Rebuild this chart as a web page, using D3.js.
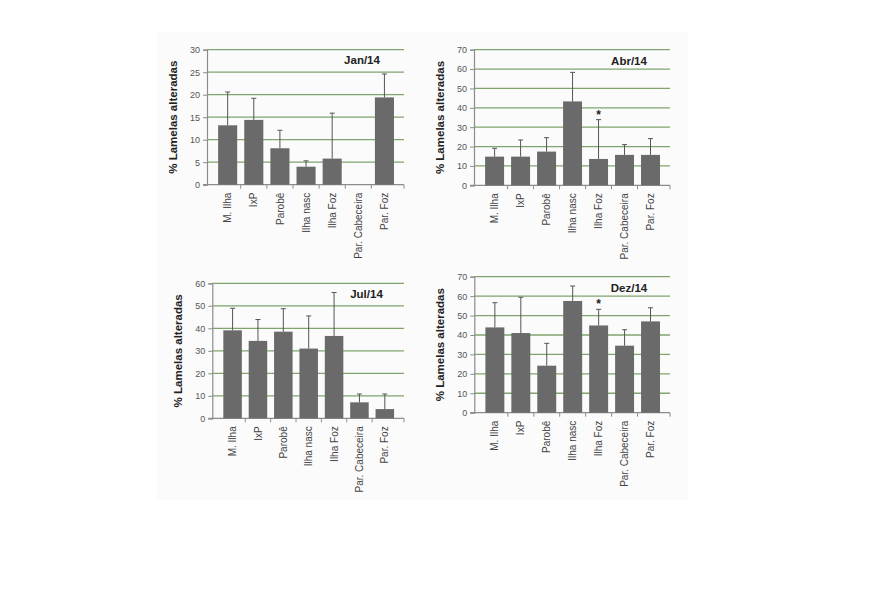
<!DOCTYPE html>
<html>
<head>
<meta charset="utf-8">
<script src="https://cdn.jsdelivr.net/npm/d3@7"></script>
<style>
  html, body { margin: 0; padding: 0; background: #ffffff; }
  svg { display: block; }
</style>
</head>
<body>
<svg id="chart" width="870" height="590"></svg>
<script>
// ---- data ----
const categories = ["M. Ilha", "IxP", "Parobê", "Ilha nasc", "Ilha Foz", "Par. Cabeceira", "Par. Foz"];

const janMeans = [13.2, 14.4, 8.1, 4.0, 5.8, 0, 19.4];
const janErrors = [7.4, 4.8, 4.0, 1.3, 10.1, 0, 5.2];
const janStars = [];

const abrMeans = [14.8, 14.8, 17.4, 43.3, 13.6, 15.7, 15.7];
const abrErrors = [4.3, 8.6, 7.2, 15.0, 20.3, 5.3, 8.4];
const abrStars = ["Ilha Foz"];

const julMeans = [39.1, 34.4, 38.5, 31.0, 36.6, 7.1, 4.1];
const julErrors = [9.8, 9.5, 10.2, 14.5, 19.3, 3.7, 6.7];
const julStars = [];

const dezMeans = [43.9, 41.0, 24.2, 57.5, 44.9, 34.5, 47.0];
const dezErrors = [12.7, 18.4, 11.5, 7.7, 8.3, 8.2, 7.0];
const dezStars = ["Ilha Foz"];

const panelTitles = ["Jan/14", "Abr/14", "Jul/14", "Dez/14"];
const yMaxes = [30, 70, 60, 70];
const yTickSteps = [5, 10, 10, 10];
const yAxisLabel = "% Lamelas alteradas";

// ---- layout (pixel geometry of each panel) ----
const panels = [
  { means: janMeans, errors: janErrors, stars: janStars, left: 207, right: 404, top: 49.7, bottom: 184.7, labelX: 176.5, titleX: 362, titleY: 64 },
  { means: abrMeans, errors: abrErrors, stars: abrStars, left: 474, right: 670, top: 49.7, bottom: 185.3, labelX: 444, titleX: 629, titleY: 65 },
  { means: julMeans, errors: julErrors, stars: julStars, left: 212.3, right: 404, top: 283.3, bottom: 418.3, labelX: 181.5, titleX: 366.5, titleY: 298 },
  { means: dezMeans, errors: dezErrors, stars: dezStars, left: 474.3, right: 670, top: 276.7, bottom: 412.7, labelX: 444, titleX: 629, titleY: 292 }
];

const svg = d3.select("#chart");

// faint figure background
svg.append("rect")
  .attr("x", 157).attr("y", 32).attr("width", 531).attr("height", 468)
  .attr("fill", "#fbfbfb");

const gridColor = "#7fa46c";
const axisColor = "#8c8c8c";
const barColor = "#6a6a6a";
const textColor = "#444";
const boldFont = "'Liberation Sans Narrow', 'Liberation Sans', Arial, sans-serif";
const tickFont = "'Liberation Sans', Arial, sans-serif";

panels.forEach((p, i) => {
  const g = svg.append("g");
  const yMax = yMaxes[i];
  const y = d3.scaleLinear().domain([0, yMax]).range([p.bottom, p.top]);
  const x = d3.scaleBand().domain(categories)
    .range([p.left + 7.6, p.right - 6.5])
    .paddingInner(0.27).paddingOuter(0.135);

  const ticks = d3.range(0, yMax + 0.001, yTickSteps[i]);

  // gridlines
  g.selectAll("line.grid").data(ticks.filter(t => t > 0)).enter().append("line")
    .attr("x1", p.left).attr("x2", p.right)
    .attr("y1", d => y(d)).attr("y2", d => y(d))
    .attr("stroke", gridColor).attr("stroke-width", 1.3);

  // y axis
  const yAxis = d3.axisLeft(y).tickValues(ticks).tickSize(4).tickPadding(3).tickFormat(d3.format("d"));
  const ya = g.append("g").attr("transform", `translate(${p.left},0)`).call(yAxis);
  ya.select(".domain").attr("stroke", axisColor).attr("stroke-width", 1.2);
  ya.selectAll(".tick line").attr("stroke", axisColor);
  ya.selectAll(".tick text").attr("fill", "#555").style("font-family", tickFont).style("font-size", "9px");

  // x axis baseline
  g.append("line")
    .attr("x1", p.left - 4).attr("x2", p.right)
    .attr("y1", p.bottom).attr("y2", p.bottom)
    .attr("stroke", axisColor).attr("stroke-width", 1.2);
  // category boundary ticks
  const step = x.step();
  const boundaries = d3.range(1, categories.length).map(k => x.range()[0] + step * k);
  boundaries.push(p.right);
  g.selectAll("line.xt").data(boundaries).enter().append("line")
    .attr("x1", d => d).attr("x2", d => d)
    .attr("y1", p.bottom).attr("y2", p.bottom + 4)
    .attr("stroke", axisColor);

  // bars
  g.selectAll("rect.bar").data(categories).enter().append("rect")
    .attr("x", d => x(d))
    .attr("width", x.bandwidth())
    .attr("y", (d, k) => y(p.means[k]))
    .attr("height", (d, k) => p.bottom - y(p.means[k]))
    .attr("fill", barColor);

  // error bars (upper)
  const eb = g.selectAll("g.eb").data(categories).enter().append("g")
    .filter((d, k) => p.errors[k] > 0);
  eb.append("line")
    .attr("x1", d => x(d) + x.bandwidth() / 2).attr("x2", d => x(d) + x.bandwidth() / 2)
    .attr("y1", d => y(p.means[categories.indexOf(d)]))
    .attr("y2", d => { const k = categories.indexOf(d); return y(p.means[k] + p.errors[k]); })
    .attr("stroke", "#555").attr("stroke-width", 1);
  eb.append("line")
    .attr("x1", d => x(d) + x.bandwidth() / 2 - 2.5).attr("x2", d => x(d) + x.bandwidth() / 2 + 2.5)
    .attr("y1", d => { const k = categories.indexOf(d); return y(p.means[k] + p.errors[k]); })
    .attr("y2", d => { const k = categories.indexOf(d); return y(p.means[k] + p.errors[k]); })
    .attr("stroke", "#555").attr("stroke-width", 1);

  // stars
  g.selectAll("text.star").data(p.stars).enter().append("text")
    .attr("x", d => x(d) + x.bandwidth() / 2)
    .attr("y", d => { const k = categories.indexOf(d); return y(p.means[k] + p.errors[k]) - 1; })
    .attr("text-anchor", "middle")
    .style("font-family", tickFont).style("font-weight", "bold").style("font-size", "12px")
    .attr("fill", "#222")
    .text("*");

  // x labels (rotated)
  g.selectAll("text.xl").data(categories).enter().append("text")
    .attr("transform", d => `translate(${x(d) + x.bandwidth() / 2 + 3.6},${p.bottom + 8}) rotate(-90)`)
    .attr("text-anchor", "end")
    .style("font-family", tickFont).style("font-size", "10px")
    .attr("fill", textColor)
    .text(d => d);

  // y label
  g.append("text")
    .attr("transform", `translate(${p.labelX},${(p.top + p.bottom) / 2}) rotate(-90)`)
    .attr("text-anchor", "middle")
    .style("font-family", boldFont).style("font-weight", "bold").style("font-size", "11.5px")
    .attr("fill", "#222")
    .text(yAxisLabel);

  // title
  g.append("text")
    .attr("x", p.titleX).attr("y", p.titleY)
    .attr("text-anchor", "middle")
    .style("font-family", boldFont).style("font-weight", "bold").style("font-size", "11.5px")
    .attr("fill", "#222")
    .text(panelTitles[i]);
});
</script>
</body>
</html>
